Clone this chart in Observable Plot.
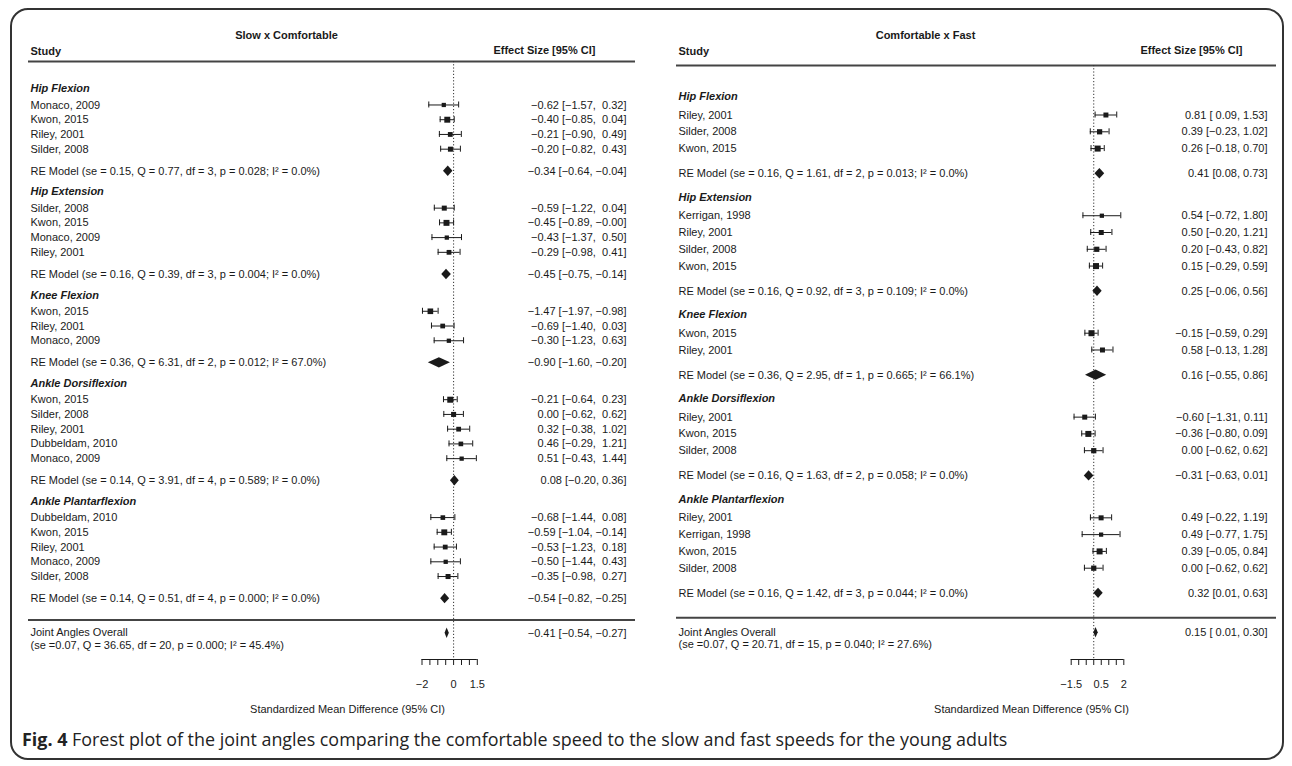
<!DOCTYPE html>
<html>
<head>
<meta charset="utf-8">
<script src="https://cdn.jsdelivr.net/npm/d3@7"></script>
<script src="https://cdn.jsdelivr.net/npm/@observablehq/plot@0.6"></script>
<style>
  html, body { margin: 0; padding: 0; background: #fff; }
  body { width: 1292px; height: 766px; position: relative; overflow: hidden; }
  #border { position: absolute; left: 10px; top: 8px; width: 1274px; height: 752px;
            border: 2px solid #333; border-radius: 18px; box-sizing: border-box; }
  #left { position: absolute; left: 0; top: 0; }
  #right { position: absolute; left: 650px; top: 0; }
  #caption { position: absolute; left: 22px; top: 727px; font-family: "Open Sans", sans-serif;
             font-size: 17.9px; color: #222; white-space: nowrap; }
  svg text { white-space: pre; }
</style>
</head>
<body>
<div id="border"></div>
<div id="left"></div>
<div id="right"></div>
<div id="caption"><b>Fig. 4</b> Forest plot of the joint angles comparing the comfortable speed to the slow and fast speeds for the young adults</div>
<script>
// Outcome groups (same order in both panels)
const outcomes = ["Hip Flexion", "Hip Extension", "Knee Flexion", "Ankle Dorsiflexion", "Ankle Plantarflexion"];

// ---- Slow x Comfortable ----
const slowStudy = [
  ["Monaco, 2009", "Kwon, 2015", "Riley, 2001", "Silder, 2008"],
  ["Silder, 2008", "Kwon, 2015", "Monaco, 2009", "Riley, 2001"],
  ["Kwon, 2015", "Riley, 2001", "Monaco, 2009"],
  ["Kwon, 2015", "Silder, 2008", "Riley, 2001", "Dubbeldam, 2010", "Monaco, 2009"],
  ["Dubbeldam, 2010", "Kwon, 2015", "Riley, 2001", "Monaco, 2009", "Silder, 2008"]
];
const slowEst = [
  [-0.62, -0.40, -0.21, -0.20],
  [-0.59, -0.45, -0.43, -0.29],
  [-1.47, -0.69, -0.30],
  [-0.21, 0.00, 0.32, 0.46, 0.51],
  [-0.68, -0.59, -0.53, -0.50, -0.35]
];
const slowLow = [
  [-1.57, -0.85, -0.90, -0.82],
  [-1.22, -0.89, -1.37, -0.98],
  [-1.97, -1.40, -1.23],
  [-0.64, -0.62, -0.38, -0.29, -0.43],
  [-1.44, -1.04, -1.23, -1.44, -0.98]
];
const slowHigh = [
  [0.32, 0.04, 0.49, 0.43],
  [0.04, -0.00, 0.50, 0.41],
  [-0.98, 0.03, 0.63],
  [0.23, 0.62, 1.02, 1.21, 1.44],
  [0.08, -0.14, 0.18, 0.43, 0.27]
];
const slowReEst = [-0.34, -0.45, -0.90, 0.08, -0.54];
const slowReLow = [-0.64, -0.75, -1.60, -0.20, -0.82];
const slowReHigh = [-0.04, -0.14, -0.20, 0.36, -0.25];
const slowReStats = [
  "se = 0.15, Q = 0.77, df = 3, p = 0.028; I² = 0.0%",
  "se = 0.16, Q = 0.39, df = 3, p = 0.004; I² = 0.0%",
  "se = 0.36, Q = 6.31, df = 2, p = 0.012; I² = 67.0%",
  "se = 0.14, Q = 3.91, df = 4, p = 0.589; I² = 0.0%",
  "se = 0.14, Q = 0.51, df = 4, p = 0.000; I² = 0.0%"
];
const slowOverall = [-0.41, -0.54, -0.27];
const slowOverallStats = "se =0.07, Q = 36.65, df = 20, p = 0.000; I² = 45.4%";
const slowTicks = [-2, -1.5, -1, -0.5, 0, 0.5, 1, 1.5];
const slowTickLabels = [-2, 0, 1.5];

// ---- Comfortable x Fast ----
const fastStudy = [
  ["Riley, 2001", "Silder, 2008", "Kwon, 2015"],
  ["Kerrigan, 1998", "Riley, 2001", "Silder, 2008", "Kwon, 2015"],
  ["Kwon, 2015", "Riley, 2001"],
  ["Riley, 2001", "Kwon, 2015", "Silder, 2008"],
  ["Riley, 2001", "Kerrigan, 1998", "Kwon, 2015", "Silder, 2008"]
];
const fastEst = [
  [0.81, 0.39, 0.26],
  [0.54, 0.50, 0.20, 0.15],
  [-0.15, 0.58],
  [-0.60, -0.36, 0.00],
  [0.49, 0.49, 0.39, 0.00]
];
const fastLow = [
  [0.09, -0.23, -0.18],
  [-0.72, -0.20, -0.43, -0.29],
  [-0.59, -0.13],
  [-1.31, -0.80, -0.62],
  [-0.22, -0.77, -0.05, -0.62]
];
const fastHigh = [
  [1.53, 1.02, 0.70],
  [1.80, 1.21, 0.82, 0.59],
  [0.29, 1.28],
  [0.11, 0.09, 0.62],
  [1.19, 1.75, 0.84, 0.62]
];
const fastReEst = [0.41, 0.25, 0.16, -0.31, 0.32];
const fastReLow = [0.08, -0.06, -0.55, -0.63, 0.01];
const fastReHigh = [0.73, 0.56, 0.86, 0.01, 0.63];
const fastReStats = [
  "se = 0.16, Q = 1.61, df = 2, p = 0.013; I² = 0.0%",
  "se = 0.16, Q = 0.92, df = 3, p = 0.109; I² = 0.0%",
  "se = 0.36, Q = 2.95, df = 1, p = 0.665; I² = 66.1%",
  "se = 0.16, Q = 1.63, df = 2, p = 0.058; I² = 0.0%",
  "se = 0.16, Q = 1.42, df = 3, p = 0.044; I² = 0.0%"
];
const fastOverall = [0.15, 0.01, 0.30];
const fastOverallStats = "se =0.07, Q = 20.71, df = 15, p = 0.040; I² = 27.6%";
const fastTicks = [-1.5, -1, -0.5, 0, 0.5, 1, 1.5, 2];
const fastTickLabels = [-1.5, 0.5, 2];

// ---- number formatting (metafor-style, with padding of non-negative values) ----
const isNeg = v => v < 0 || Object.is(v, -0);
const fmt = v => (isNeg(v) ? "\u2212" : "") + Math.abs(v).toFixed(2);
const padded = vals => {
  const anyNeg = vals.some(isNeg);
  return v => (anyNeg && !isNeg(v) ? " " : "") + fmt(v);
};

const H = 725;          // svg height
const AXIS_Y = 659;     // pixel row of the axis line
const TOP_PAD = 2.95;   // rows between header rule and first study

function forest(cfg) {
  const rows = [], heads = [], polys = [];
  const fe = padded(cfg.est.flat()), fl = padded(cfg.low.flat()), fh = padded(cfg.high.flat());
  let y = 0;
  cfg.study.forEach((names, g) => {
    heads.push({label: outcomes[g], y: y - 1.1});
    names.forEach((name, i) => {
      const est = cfg.est[g][i], lo = cfg.low[g][i], hi = cfg.high[g][i];
      rows.push({name, est, lo, hi, y, label: `${fe(est)} [${fl(lo)}, ${fh(hi)}]`});
      y += 1;
    });
    y += 0.5;
    polys.push({
      id: g, y, est: cfg.reEst[g], lo: cfg.reLow[g], hi: cfg.reHigh[g],
      name: `RE Model (${cfg.reStats[g]})`,
      label: `${fmt(cfg.reEst[g])} [${fmt(cfg.reLow[g])}, ${fmt(cfg.reHigh[g])}]`
    });
    y += 2.5;
  });
  const lastRE = polys[polys.length - 1].y;
  const ruleRow = lastRE + 1.45;
  const overallRow = lastRE + 2.35;
  const [oe, ol, oh] = cfg.overall;
  polys.push({
    id: "overall", y: overallRow, est: oe, lo: ol, hi: oh,
    name: `Joint Angles Overall\n(${cfg.overallStats})`,
    label: `${fe(oe)} [${fl(ol)}, ${fh(oh)}]`
  });

  const yTop = -TOP_PAD;
  const marginBottom = H - AXIS_Y;
  const frameHeight = H - cfg.marginTop - marginBottom;
  const yBottom = overallRow + cfg.axisPad;
  const px = frameHeight / (yBottom - yTop);   // pixels per row
  const capH = 3 / px, diaH = 5.2 / px;

  // square size from precision (1 / CI width)
  const w = rows.map(d => 1 / (d.hi - d.lo));
  const [wMin, wMax] = d3.extent(w);
  rows.forEach((d, i) => d.r = 2.4 + 1.0 * (w[i] - wMin) / (wMax - wMin));

  const diamonds = polys.flatMap(p => [
    {id: p.id, x: p.lo, y1: p.y, y2: p.y},
    {id: p.id, x: p.est, y1: p.y - diaH, y2: p.y + diaH},
    {id: p.id, x: p.hi, y1: p.y, y2: p.y}
  ]);
  const overall = polys[polys.length - 1];
  const rePolys = polys.slice(0, -1);

  const ink = "#1a1a1a";
  return Plot.plot({
    width: cfg.width,
    height: H,
    marginLeft: cfg.marginLeft,
    marginRight: cfg.marginRight,
    marginTop: cfg.marginTop,
    marginBottom,
    style: {fontFamily: "'Liberation Sans', Arial, sans-serif", fontSize: "11px", color: ink, background: "transparent"},
    x: {
      domain: d3.extent(cfg.ticks), range: cfg.xRange, ticks: cfg.ticks,
      tickFormat: d => cfg.tickLabels.includes(d) ? (d < 0 ? "\u2212" + Math.abs(d) : String(d)) : "",
      tickSize: 6, tickPadding: 15, label: null
    },
    y: {domain: [yTop, yBottom], reverse: true, axis: null},
    r: {type: "identity"},
    marks: [
      // header and footer rules
      Plot.ruleY([yTop], {stroke: "#444", strokeWidth: 2}),
      Plot.ruleY([ruleRow], {stroke: "#444", strokeWidth: 2}),
      // no-effect reference line
      Plot.ruleX([0], {stroke: "#333", strokeDasharray: "1.2,2"}),
      // axis line over the tick range
      Plot.ruleY([yBottom], {x1: cfg.ticks[0], x2: cfg.ticks[cfg.ticks.length - 1], stroke: ink}),
      // study confidence intervals with end caps
      Plot.ruleY(rows, {y: "y", x1: "lo", x2: "hi", stroke: ink}),
      Plot.ruleX(rows, {x: "lo", y1: d => d.y - capH, y2: d => d.y + capH, stroke: ink}),
      Plot.ruleX(rows, {x: "hi", y1: d => d.y - capH, y2: d => d.y + capH, stroke: ink}),
      Plot.dot(rows, {x: "est", y: "y", r: "r", symbol: "square", fill: ink, stroke: null}),
      // pooled estimates
      Plot.areaY(diamonds, {x: "x", y1: "y1", y2: "y2", z: "id", fill: ink, curve: "linear"}),
      // left column texts
      Plot.text(heads, {y: "y", text: "label", frameAnchor: "left", textAnchor: "start", dx: 2,
                        fontWeight: "bold", fontStyle: "italic"}),
      Plot.text(rows, {y: "y", text: "name", frameAnchor: "left", textAnchor: "start", dx: 2}),
      Plot.text(rePolys, {y: "y", text: "name", frameAnchor: "left", textAnchor: "start", dx: 2}),
      Plot.text([overall], {y: "y", text: "name", frameAnchor: "left", textAnchor: "start", dx: 2,
                            lineAnchor: "top", dy: -6, lineHeight: 1.15}),
      // right column texts
      Plot.text(rows, {y: "y", text: "label", frameAnchor: "right", textAnchor: "end", dx: -9}),
      Plot.text(polys, {y: "y", text: "label", frameAnchor: "right", textAnchor: "end", dx: -9}),
      // column headings and panel title
      Plot.text([cfg.title], {text: d => d, frameAnchor: "top-left", textAnchor: "middle",
                              dx: cfg.titleX - cfg.marginLeft, dy: 31 - cfg.marginTop, fontWeight: "bold"}),
      Plot.text(["Study"], {text: d => d, frameAnchor: "top-left", textAnchor: "start",
                            dx: 2, dy: 47 - cfg.marginTop, fontWeight: "bold"}),
      Plot.text(["Effect Size [95% CI]"], {text: d => d, frameAnchor: "top-right", textAnchor: "end",
                                           dx: cfg.effectDx, dy: 46 - cfg.marginTop, fontWeight: "bold"}),
      // x axis title
      Plot.text(["Standardized Mean Difference (95% CI)"], {text: d => d, frameAnchor: "bottom-left",
                 textAnchor: "middle", dx: cfg.xLabelX - cfg.marginLeft, dy: 53})
    ]
  });
}

document.getElementById("left").append(forest({
  title: "Slow x Comfortable",
  study: slowStudy, est: slowEst, low: slowLow, high: slowHigh,
  reEst: slowReEst, reLow: slowReLow, reHigh: slowReHigh, reStats: slowReStats,
  overall: slowOverall, overallStats: slowOverallStats,
  ticks: slowTicks, tickLabels: slowTickLabels,
  width: 650, marginLeft: 28, marginRight: 15, marginTop: 61,
  xRange: [421.5, 476.8], axisPad: 1.78, titleX: 286, effectDx: -40, xLabelX: 347
}));

document.getElementById("right").append(forest({
  title: "Comfortable x Fast",
  study: fastStudy, est: fastEst, low: fastLow, high: fastHigh,
  reEst: fastReEst, reLow: fastReLow, reHigh: fastReHigh, reStats: fastReStats,
  overall: fastOverall, overallStats: fastOverallStats,
  ticks: fastTicks, tickLabels: fastTickLabels,
  width: 640, marginLeft: 26, marginRight: 14, marginTop: 65,
  xRange: [420.7, 473.3], axisPad: 1.59, titleX: 275, effectDx: -34, xLabelX: 381
}));
</script>
</body>
</html>
